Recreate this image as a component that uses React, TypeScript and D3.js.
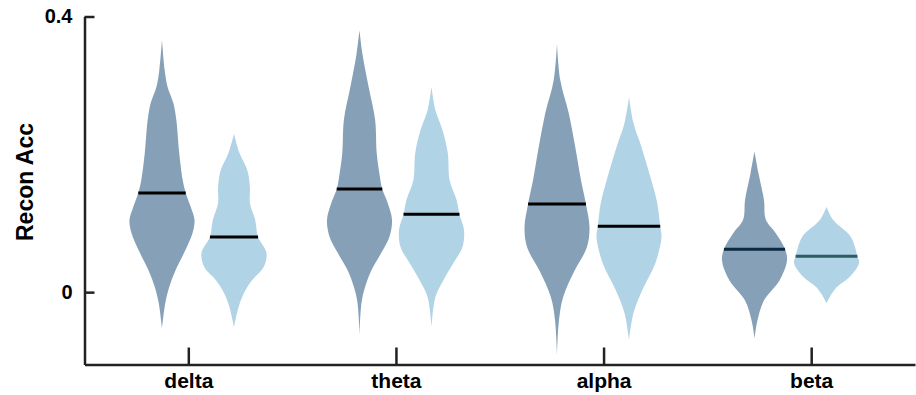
// Violin plot of reconstruction accuracy per frequency band, two conditions per band
import React, { useEffect, useRef } from 'react';
import * as d3 from 'd3';

const categories = ['delta', 'theta', 'alpha', 'beta'];
const yTicks = [0, 0.4];

// medians per band: first condition (dark), second condition (light)
const medianDark = [0.144, 0.1495, 0.128, 0.0624];
const medianLight = [0.08, 0.113, 0.0958, 0.052];

// density profiles: [value, relative density]
const deltaDark = [[0.366, 0], [0.322, 0.083], [0.298, 0.17], [0.274, 0.35], [0.25, 0.44], [0.202, 0.53], [0.162, 0.64], [0.144, 0.73], [0.123, 0.89], [0.105, 1.0], [0.086, 0.94], [0.057, 0.68], [0.032, 0.42], [0.007, 0.22], [-0.016, 0.1], [-0.052, 0]];
const deltaLight = [[0.23, 0], [0.202, 0.17], [0.177, 0.41], [0.152, 0.49], [0.129, 0.49], [0.105, 0.65], [0.08, 0.74], [0.057, 1.0], [0.036, 0.91], [0.017, 0.55], [-0.001, 0.31], [-0.022, 0.14], [-0.051, 0]];
const thetaDark = [[0.38, 0], [0.346, 0.09], [0.298, 0.28], [0.25, 0.48], [0.202, 0.53], [0.173, 0.61], [0.1495, 0.7], [0.129, 0.87], [0.105, 1.0], [0.08, 0.92], [0.057, 0.67], [0.032, 0.37], [0.007, 0.17], [-0.016, 0.06], [-0.062, 0]];
const thetaLight = [[0.298, 0], [0.264, 0.12], [0.235, 0.34], [0.202, 0.5], [0.162, 0.56], [0.134, 0.77], [0.113, 0.86], [0.09, 1.0], [0.065, 0.95], [0.042, 0.67], [0.017, 0.36], [-0.007, 0.12], [-0.051, 0]];
const alphaDark = [[0.361, 0], [0.308, 0.1], [0.26, 0.36], [0.211, 0.56], [0.162, 0.74], [0.128, 0.89], [0.094, 1.0], [0.065, 0.92], [0.032, 0.55], [-0.007, 0.19], [-0.041, 0.06], [-0.091, 0]];
const alphaLight = [[0.283, 0], [0.245, 0.14], [0.211, 0.38], [0.162, 0.69], [0.129, 0.87], [0.0958, 0.96], [0.08, 1.0], [0.042, 0.81], [0.003, 0.41], [-0.03, 0.14], [-0.07, 0]];
const betaDark = [[0.204, 0], [0.173, 0.12], [0.134, 0.29], [0.105, 0.35], [0.086, 0.65], [0.0624, 0.94], [0.046, 1.0], [0.017, 0.77], [-0.012, 0.29], [-0.041, 0.09], [-0.067, 0]];
const betaLight = [[0.124, 0], [0.105, 0.2], [0.08, 0.75], [0.052, 0.95], [0.042, 1.0], [0.022, 0.71], [0.007, 0.31], [-0.007, 0.1], [-0.016, 0]];

const profilesDark = [deltaDark, thetaDark, alphaDark, betaDark];
const profilesLight = [deltaLight, thetaLight, alphaLight, betaLight];

const W = 916;
const H = 395;
const FONT = "'Liberation Sans', Arial, Helvetica, sans-serif";
const AXIS = '#222';
const FILL_DARK = '#86a0b8';
const FILL_LIGHT = '#b1d3e6';
const MED_DARK = ['#000', '#000', '#000', '#0b2a42'];
const MED_LIGHT = ['#000', '#000', '#000', '#2e5a62'];

// density at a value, linear between profile samples
const densityAt = (profile, v) => {
  const pts = profile.slice().sort((a, b) => a[0] - b[0]);
  for (let i = 1; i < pts.length; i++) {
    if (v <= pts[i][0]) {
      const t = (v - pts[i - 1][0]) / (pts[i][0] - pts[i - 1][0]);
      return pts[i - 1][1] + t * (pts[i][1] - pts[i - 1][1]);
    }
  }
  return 0;
};

const App = () => {
  const xAxisRef = useRef(null);
  const yAxisRef = useRef(null);

  const x = d3.scaleLinear().domain([0.5, 4.5]).range([84.5, 915]);
  const y = d3.scaleLinear().domain([-0.105, 0.4]).range([364.5, 16.5]);
  // violins sit on their own spacing, a bit tighter than the ticks
  const xv = d3.scaleLinear().domain([1, 4]).range([198, 790.5]);
  const offset = 36;
  const w = d3.scaleLinear().domain([0, 1]).range([0, 32.5]);

  useEffect(() => {
    const gx = d3.select(xAxisRef.current);
    gx.selectAll('*').remove();
    gx.call(
      d3.axisBottom(x)
        .tickValues([1, 2, 3, 4])
        .tickFormat((d) => categories[d - 1])
        .tickSize(-17)
        .tickSizeOuter(0)
        .tickPadding(9)
    );
    gx.select('.domain').attr('stroke', AXIS).attr('stroke-width', 2.5);
    gx.selectAll('.tick line').attr('stroke', AXIS).attr('stroke-width', 2.5);
    gx.selectAll('.tick text')
      .attr('fill', '#000')
      .style('font-family', FONT)
      .style('font-weight', 'bold')
      .style('font-size', '21px');

    const gy = d3.select(yAxisRef.current);
    gy.selectAll('*').remove();
    gy.call(
      d3.axisLeft(y)
        .tickValues(yTicks)
        .tickFormat((d) => (d === 0 ? '0' : String(d)))
        .tickSize(-10)
        .tickSizeOuter(0)
        .tickPadding(12)
    );
    gy.select('.domain').attr('stroke', AXIS).attr('stroke-width', 2.5);
    gy.selectAll('.tick line').attr('stroke', AXIS).attr('stroke-width', 2.5);
    gy.selectAll('.tick text')
      .attr('fill', '#000')
      .style('font-family', FONT)
      .style('font-weight', 'bold')
      .style('font-size', '20px');
  }, []);

  const violin = (profile, cx) =>
    d3.area()
      .y((d) => y(d[0]))
      .x0((d) => cx - w(d[1]))
      .x1((d) => cx + w(d[1]))
      .curve(d3.curveCatmullRom.alpha(0.5))(profile);

  const groups = categories.map((c, i) => {
    const cd = xv(i + 1) - offset;
    const cl = xv(i + 1) + offset;
    const hd = w(densityAt(profilesDark[i], medianDark[i]));
    const hl = w(densityAt(profilesLight[i], medianLight[i]));
    return (
      <g key={c}>
        <path d={violin(profilesDark[i], cd)} fill={FILL_DARK} />
        <path d={violin(profilesLight[i], cl)} fill={FILL_LIGHT} />
        <line x1={cd - hd} x2={cd + hd} y1={y(medianDark[i])} y2={y(medianDark[i])} stroke={MED_DARK[i]} strokeWidth={3} />
        <line x1={cl - hl} x2={cl + hl} y1={y(medianLight[i])} y2={y(medianLight[i])} stroke={MED_LIGHT[i]} strokeWidth={3} />
      </g>
    );
  });

  return (
    <svg width={W} height={H} style={{ position: 'absolute', left: 0, top: 0, background: '#fff' }}>
      {groups}
      <g ref={xAxisRef} transform={`translate(0, ${y(-0.105)})`} />
      <g ref={yAxisRef} transform={`translate(${x(0.5)}, 0)`} />
      <text
        transform={`translate(25, 182) rotate(-90)`}
        textAnchor="middle"
        dominantBaseline="central"
        fontFamily={FONT}
        fontWeight="bold"
        fontSize={23}
        fill="#000"
      >
        Recon Acc
      </text>
    </svg>
  );
};

export default App;
